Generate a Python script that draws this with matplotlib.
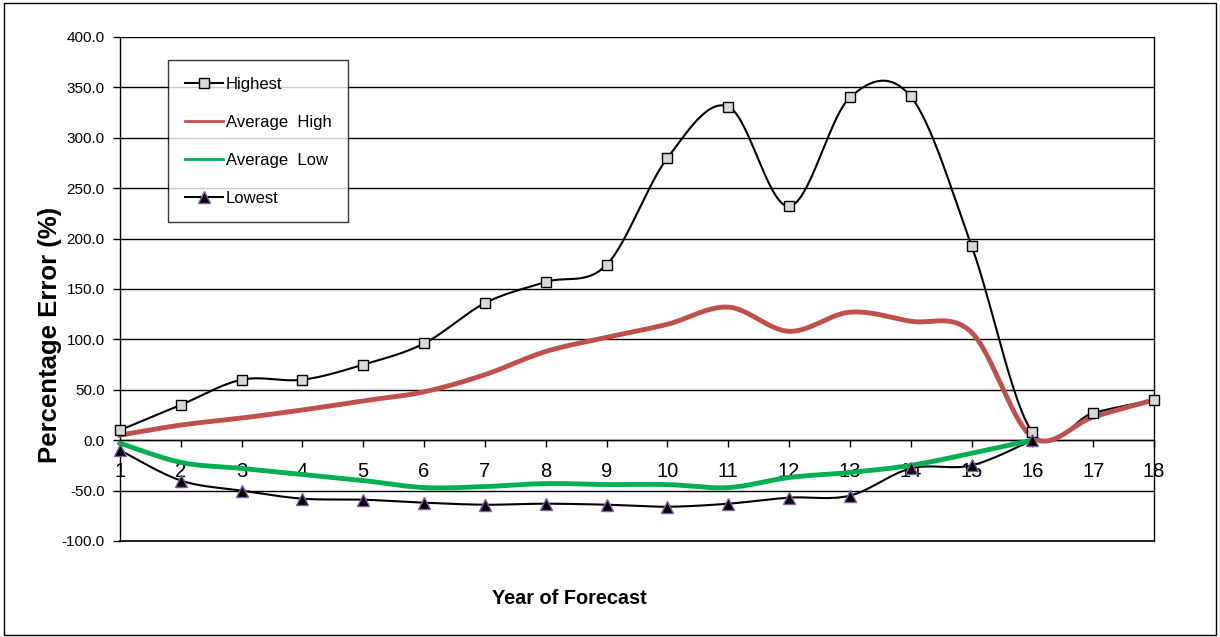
import matplotlib
matplotlib.use('Agg')
import matplotlib.pyplot as plt
import numpy as np

plt.rcParams['font.family'] = ['Liberation Sans', 'DejaVu Sans']

years = list(range(1, 19))
highest = [10, 35, 60, 60, 75, 96, 136, 157, 174, 280, 331, 232, 340, 341, 193, 8, 27, 40]
avg_high = [5, 15, 22, 30, 39, 48, 65, 88, 102, 115, 132, 108, 127, 118, 107, 3, 23, 40]
avg_low = [-3, -22, -28, -34, -40, -47, -46, -43, -44, -44, -47, -37, -32, -25, -13, 0]
lowest = [-10, -40, -50, -58, -59, -62, -64, -63, -64, -66, -63, -57, -55, -28, -25, 0]
yticks = [-100, -50, 0, 50, 100, 150, 200, 250, 300, 350, 400]


def smooth(xs, ys, n=30):
    # excel-like smoothed line: catmull-rom bezier through the points
    p = np.column_stack([xs, ys]).astype(float)
    p = np.vstack([p[0], p, p[-1]])
    t = np.linspace(0, 1, n)[:, None]
    out = []
    for i in range(1, len(p) - 2):
        a, b = p[i], p[i + 1]
        c1 = a + (p[i + 1] - p[i - 1]) / 6
        c2 = b - (p[i + 2] - p[i]) / 6
        seg = ((1 - t) ** 3) * a + 3 * ((1 - t) ** 2) * t * c1 + 3 * (1 - t) * t ** 2 * c2 + t ** 3 * b
        out.append(seg)
    out = np.vstack(out)
    return out[:, 0], out[:, 1]


fig = plt.figure(figsize=(12.2, 6.37), dpi=100)
ax = fig.add_axes([120 / 1220, 1 - 541 / 637, (1154 - 120) / 1220, (541 - 37) / 637])

fig.patches.append(plt.Rectangle((0.003, 0.003), 0.994, 0.993, transform=fig.transFigure,
                                 fill=False, edgecolor='black', lw=1))

x = years
sx, sy = smooth(x, highest)
ax.plot(sx, sy, color='black', lw=1.5, zorder=4, clip_on=False)
ax.plot(x, highest, ls='none', marker='s', ms=7, mfc='#d9d9d9', mec='black', mew=1, zorder=6, clip_on=False)

sx, sy = smooth(x, avg_high)
ax.plot(sx, sy, color='#c0504d', lw=3.5, zorder=5, clip_on=False)

sx, sy = smooth(x[:len(avg_low)], avg_low)
ax.plot(sx, sy, color='#00b050', lw=3.5, zorder=5, clip_on=False)

sx, sy = smooth(x[:len(lowest)], lowest)
ax.plot(sx, sy, color='black', lw=1.5, zorder=4, clip_on=False)
ax.plot(x[:len(lowest)], lowest, ls='none', marker='^', ms=8, mfc='black', mec='#7f5fa8', mew=1, zorder=6, clip_on=False)

# legend handles
h1, = ax.plot([], [], color='black', lw=1.5, marker='s', ms=7, mfc='#d9d9d9', mec='black')
h2, = ax.plot([], [], color='#c0504d', lw=2)
h3, = ax.plot([], [], color='#00b050', lw=2)
h4, = ax.plot([], [], color='black', lw=1.5, marker='^', ms=8, mfc='black', mec='#7f5fa8')
leg = ax.legend([h1, h2, h3, h4], ['Highest', 'Average  High', 'Average  Low', 'Lowest'],
                loc='upper left', bbox_to_anchor=(168 / 1220, 1 - 60 / 637), bbox_transform=fig.transFigure,
                fontsize=12, frameon=True, fancybox=False, handlelength=2.3, handletextpad=0.15,
                labelspacing=1.38, borderpad=1.0, borderaxespad=0)
leg.get_frame().set_edgecolor('black')
leg.get_frame().set_linewidth(1)
leg.set_zorder(10)

ax.set_xlim(1, 18)
ax.set_ylim(-100, 400)
ax.set_yticks(yticks)
ax.set_yticklabels(['%.1f' % v for v in yticks])
ax.set_xticks(years)
ax.set_xticklabels([str(v) for v in years])
ax.yaxis.grid(True, color='black', lw=1)
ax.axhline(-100, color='black', lw=1.2, clip_on=False, zorder=3)
ax.set_axisbelow(True)

ax.spines['bottom'].set_position(('data', 0))
ax.spines['top'].set_visible(False)
for s in ['left', 'right', 'bottom']:
    ax.spines[s].set_linewidth(1)
ax.tick_params(axis='x', direction='out', length=5, pad=11, width=1, labelsize=14.5)
ax.tick_params(axis='y', direction='out', length=5, pad=6, width=1, labelsize=11)

fig.text(50 / 1220, 1 - 335 / 637, 'Percentage Error (%)', rotation=90, fontsize=18.5,
         fontweight='bold', ha='center', va='center')
fig.text(569 / 1220, 1 - 598 / 637, 'Year of Forecast', fontsize=14.3, fontweight='bold',
         ha='center', va='center')

fig.savefig('out.png', dpi=100)
